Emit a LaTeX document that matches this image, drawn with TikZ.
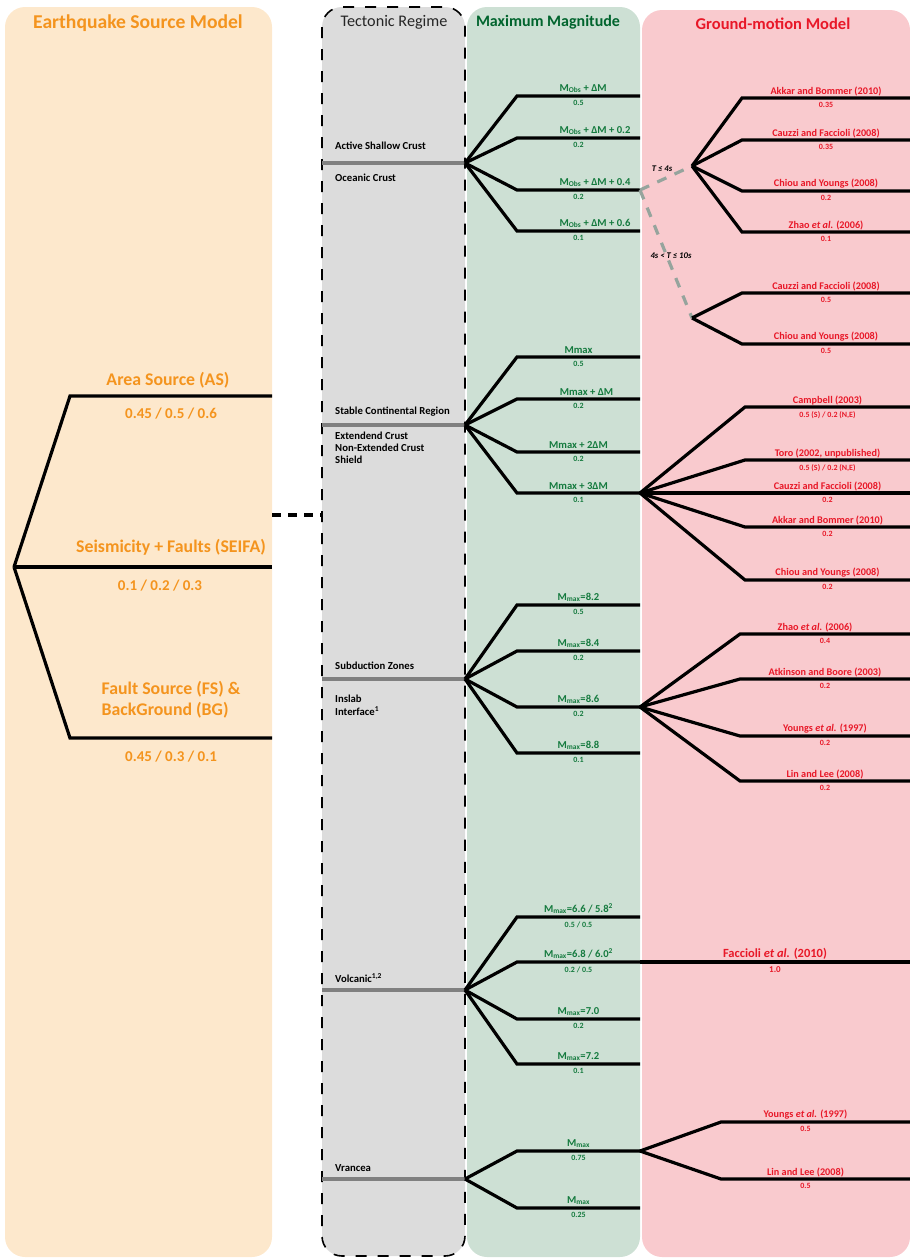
\documentclass[tikz,border=0pt]{standalone}
\usepackage{fontspec}
\setmainfont{Carlito}
\usetikzlibrary{positioning,calc}
\definecolor{srcfill}{RGB}{253,232,204}
\definecolor{srctext}{RGB}{244,148,30}
\definecolor{regfill}{RGB}{220,220,220}
\definecolor{regline}{RGB}{128,128,128}
\definecolor{magfill}{RGB}{205,224,212}
\definecolor{magtext}{RGB}{20,122,62}
\definecolor{maghead}{RGB}{0,100,45}
\definecolor{gmfill}{RGB}{249,202,206}
\definecolor{gmtext}{RGB}{232,24,40}
\definecolor{perline}{RGB}{150,164,157}
\begin{document}
\begin{tikzpicture}[x=1pt,y=-1pt,
panel/.style={rounded corners=20pt},
tree/.style={line width=3.2pt,black},
regime/.style={line width=3.2pt,draw=regline},
period/.style={line width=3.2pt,draw=perline,dash pattern=on 10pt off 9pt},
fork/.style={to path={-- ([xshift=-#1]\tikztotarget) -- (\tikztotarget) \tikztonodes}},
head/.style={font=\fontsize{17}{20}\selectfont\bfseries},
srclab/.style={text=srctext,font=\fontsize{17.8}{21}\selectfont\bfseries,inner sep=0pt},
srcval/.style={text=srctext,font=\fontsize{15}{18}\selectfont\bfseries,inner sep=0pt},
reglab/.style={font=\fontsize{10.7}{12}\selectfont\bfseries,anchor=west,align=left,inner sep=0pt},
maglab/.style={text=magtext,font=\fontsize{10.6}{12}\selectfont\bfseries,inner sep=1.5pt},
magval/.style={text=magtext,font=\fontsize{8}{9}\selectfont\bfseries,inner sep=3pt},
gmlab/.style={text=gmtext,font=\fontsize{10.2}{12}\selectfont\bfseries,inner sep=0.8pt},
gmval/.style={text=gmtext,font=\fontsize{8}{9}\selectfont\bfseries,inner sep=3pt},
perlab/.style={font=\fontsize{8.7}{10}\selectfont\bfseries\itshape,inner sep=0pt}]
\useasboundingbox (0,0) rectangle (910,1258);

% column panels
\fill[srcfill,panel] (5,7) rectangle (272,1257);
\fill[regfill,panel] (322,7) rectangle (465,1256);
\draw[panel,line width=1.6pt,dash pattern=on 11pt off 11pt] (322,7) rectangle (465,1256);
\fill[magfill,panel] (467,7) rectangle (640,1257);
\fill[gmfill,panel] (642,10) rectangle (910,1257);

\node[head,text=srctext,font=\fontsize{19.6}{22}\selectfont\bfseries] (srchead) at (138,23) {Earthquake Source Model};
\node[head,text=black!85,font=\fontsize{16.2}{20}\selectfont] (reghead) at (394,22) {Tectonic Regime};
\node[head,text=maghead,font=\fontsize{16}{20}\selectfont\bfseries] (maghd) at (548,22) {Maximum Magnitude};
\node[head,text=gmtext,font=\fontsize{16.5}{20}\selectfont\bfseries] (gmhead) at (773,24) {Ground-motion Model};

% earthquake source model
\coordinate (src) at (14,567);
\coordinate (as) at (272,396);
\coordinate (seifa) at (272,567);
\coordinate (fsbg) at (272,738);
\draw[tree] (src) to[fork=202] node[srclab,above=6pt,midway,xshift=-3pt] (aslab) {Area Source (AS)}
  node[srcval,below=10pt,midway] (asval) {0.45 / 0.5 / 0.6} (as);
\draw[tree] (src) to[fork=202] node[srclab,above=10pt,midway] (seifalab) {Seismicity + Faults (SEIFA)}
  node[srcval,below=11pt,midway,xshift=-11pt] (seifaval) {0.1 / 0.2 / 0.3} (seifa);
\draw[tree] (src) to[fork=202] node[srclab,above=18pt,midway,align=left] (fsbglab) {Fault Source (FS) \&\\BackGround (BG)}
  node[srcval,below=11pt,midway] (fsbgval) {0.45 / 0.3 / 0.1} (fsbg);
\coordinate (srcgap) at (272,515);
\coordinate (reggap) at (322,515);
\draw[tree,dash pattern=on 9pt off 7pt] (srcgap) -- (reggap);

% tectonic regimes
\coordinate (ascw) at (322,163);
\coordinate (asc) at (465,163);
\draw[regime] (ascw) -- (asc);
\node[reglab] (asclab) at (335,146) {Active Shallow Crust};
\node[reglab] (oclab) at (335,178) {Oceanic Crust};
\coordinate (scrw) at (322,425);
\coordinate (scr) at (465,425);
\draw[regime] (scrw) -- (scr);
\node[reglab] (scrlab) at (335,412) {Stable Continental Region};
\node[reglab] (eclab) at (335,448) {Extendend Crust\\Non-Extended Crust\\Shield};
\coordinate (szw) at (322,679);
\coordinate (sz) at (465,679);
\draw[regime] (szw) -- (sz);
\node[reglab] (szlab) at (335,666) {Subduction Zones};
\node[reglab,font=\fontsize{10.7}{13}\selectfont\bfseries] (islab) at (335,705) {Inslab\\Interface\textsuperscript{1}};
\coordinate (volw) at (322,990);
\coordinate (vol) at (465,990);
\draw[regime] (volw) -- (vol);
\node[reglab] (vollab) at (335,978) {Volcanic\textsuperscript{1,2}};
\coordinate (vrw) at (322,1179);
\coordinate (vr) at (465,1179);
\draw[regime] (vrw) -- (vr);
\node[reglab] (vrlab) at (335,1168) {Vrancea};

% maximum magnitude
\coordinate (m11) at (640,96);
\coordinate (m12) at (640,138);
\coordinate (m13) at (640,190);
\coordinate (m14) at (640,231);
\draw[tree] (asc) to[fork=123] node[maglab,above right,midway,xshift=-22pt] (m11l) {M\textsubscript{Obs} + ΔM} node[magval,below,midway] (m11v) {0.5} (m11);
\draw[tree] (asc) to[fork=123] node[maglab,above right,midway,xshift=-22pt] (m12l) {M\textsubscript{Obs} + ΔM + 0.2} node[magval,below,midway] (m12v) {0.2} (m12);
\draw[tree] (asc) to[fork=123] node[maglab,above right,midway,xshift=-22pt] (m13l) {M\textsubscript{Obs} + ΔM + 0.4} node[magval,below,midway] (m13v) {0.2} (m13);
\draw[tree] (asc) to[fork=123] node[maglab,above right,midway,xshift=-22pt] (m14l) {M\textsubscript{Obs} + ΔM + 0.6} node[magval,below,midway] (m14v) {0.1} (m14);
\coordinate (m21) at (640,357);
\coordinate (m22) at (640,399);
\coordinate (m23) at (640,452);
\coordinate (m24) at (640,493);
\draw[tree] (scr) to[fork=123] node[maglab,above,midway] (m21l) {Mmax} node[magval,below,midway] (m21v) {0.5} (m21);
\draw[tree] (scr) to[fork=123] node[maglab,above,midway,xshift=8pt] (m22l) {Mmax + ΔM} node[magval,below,midway] (m22v) {0.2} (m22);
\draw[tree] (scr) to[fork=123] node[maglab,above,midway] (m23l) {Mmax + 2ΔM} node[magval,below,midway] (m23v) {0.2} (m23);
\draw[tree] (scr) to[fork=123] node[maglab,above,midway] (m24l) {Mmax + 3ΔM} node[magval,below,midway] (m24v) {0.1} (m24);
\coordinate (m31) at (640,605);
\coordinate (m32) at (640,651);
\coordinate (m33) at (640,707);
\coordinate (m34) at (640,753);
\draw[tree] (sz) to[fork=123] node[maglab,above,midway] (m31l) {M\textsubscript{max}=8.2} node[magval,below,midway] (m31v) {0.5} (m31);
\draw[tree] (sz) to[fork=123] node[maglab,above,midway] (m32l) {M\textsubscript{max}=8.4} node[magval,below,midway] (m32v) {0.2} (m32);
\draw[tree] (sz) to[fork=123] node[maglab,above,midway] (m33l) {M\textsubscript{max}=8.6} node[magval,below,midway] (m33v) {0.2} (m33);
\draw[tree] (sz) to[fork=123] node[maglab,above,midway] (m34l) {M\textsubscript{max}=8.8} node[magval,below,midway] (m34v) {0.1} (m34);
\coordinate (m41) at (640,917);
\coordinate (m42) at (640,962);
\coordinate (m43) at (640,1019);
\coordinate (m44) at (640,1064);
\draw[tree] (vol) to[fork=123] node[maglab,above,midway] (m41l) {M\textsubscript{max}=6.6 / 5.8\textsuperscript{2}} node[magval,below,midway] (m41v) {0.5 / 0.5} (m41);
\draw[tree] (vol) to[fork=123] node[maglab,above,midway] (m42l) {M\textsubscript{max}=6.8 / 6.0\textsuperscript{2}} node[magval,below,midway] (m42v) {0.2 / 0.5} (m42);
\draw[tree] (vol) to[fork=123] node[maglab,above,midway] (m43l) {M\textsubscript{max}=7.0} node[magval,below,midway] (m43v) {0.2} (m43);
\draw[tree] (vol) to[fork=123] node[maglab,above,midway] (m44l) {M\textsubscript{max}=7.2} node[magval,below,midway] (m44v) {0.1} (m44);
\coordinate (m51) at (640,1151);
\coordinate (m52) at (640,1208);
\draw[tree] (vr) to[fork=123] node[maglab,above,midway] (m51l) {M\textsubscript{max}} node[magval,below,midway] (m51v) {0.75} (m51);
\draw[tree] (vr) to[fork=123] node[maglab,above,midway] (m52l) {M\textsubscript{max}} node[magval,below,midway] (m52v) {0.25} (m52);

% ground-motion models
\coordinate (tshort) at (692,166);
\coordinate (tlong) at (692,318);
\draw[period] (m13) -- (tshort);
\draw[period] (m13) -- (tlong);
\node[perlab] (tshortlab) at (662,169) {T ≤ 4s};
\node[perlab] (tlonglab) at (671,256) {4s < T ≤ 10s};
\coordinate (g11) at (910,98);
\coordinate (g12) at (910,140);
\coordinate (g13) at (910,191);
\coordinate (g14) at (910,232);
\draw[tree] (tshort) to[fork=168] node[gmlab,above,midway] (g11l) {Akkar and Bommer (2010)} node[gmval,below,midway] (g11v) {0.35} (g11);
\draw[tree] (tshort) to[fork=168] node[gmlab,above,midway] (g12l) {Cauzzi and Faccioli (2008)} node[gmval,below,midway] (g12v) {0.35} (g12);
\draw[tree] (tshort) to[fork=168] node[gmlab,above,midway] (g13l) {Chiou and Youngs (2008)} node[gmval,below,midway] (g13v) {0.2} (g13);
\draw[tree] (tshort) to[fork=168] node[gmlab,above,midway] (g14l) {Zhao \textit{et al.} (2006)} node[gmval,below,midway] (g14v) {0.1} (g14);
\coordinate (g15) at (910,293);
\coordinate (g16) at (910,344);
\draw[tree] (tlong) to[fork=168] node[gmlab,above,midway] (g15l) {Cauzzi and Faccioli (2008)} node[gmval,below,midway] (g15v) {0.5} (g15);
\draw[tree] (tlong) to[fork=168] node[gmlab,above,midway] (g16l) {Chiou and Youngs (2008)} node[gmval,below,midway] (g16v) {0.5} (g16);
\coordinate (g21) at (910,407);
\coordinate (g22) at (910,460);
\coordinate (g23) at (910,493);
\coordinate (g24) at (910,527);
\coordinate (g25) at (910,580);
\draw[tree] (m24) to[fork=165] node[gmlab,above,midway] (g21l) {Campbell (2003)} node[gmval,below,midway] (g21v) {0.5 (S) / 0.2 (N,E)} (g21);
\draw[tree] (m24) to[fork=165] node[gmlab,above,midway] (g22l) {Toro (2002, unpublished)} node[gmval,below,midway] (g22v) {0.5 (S) / 0.2 (N,E)} (g22);
\draw[tree] (m24) to[fork=165] node[gmlab,above,midway] (g23l) {Cauzzi and Faccioli (2008)} node[gmval,below,midway] (g23v) {0.2} (g23);
\draw[tree] (m24) to[fork=165] node[gmlab,above,midway] (g24l) {Akkar and Bommer (2010)} node[gmval,below,midway] (g24v) {0.2} (g24);
\draw[tree] (m24) to[fork=165] node[gmlab,above,midway] (g25l) {Chiou and Youngs (2008)} node[gmval,below,midway] (g25v) {0.2} (g25);
\coordinate (g31) at (910,634);
\coordinate (g32) at (910,679);
\coordinate (g33) at (910,736);
\coordinate (g34) at (910,781);
\draw[tree] (m33) to[fork=170] node[gmlab,above,midway,xshift=-10pt] (g31l) {Zhao \textit{et al.} (2006)} node[gmval,below,midway] (g31v) {0.4} (g31);
\draw[tree] (m33) to[fork=170] node[gmlab,above,midway] (g32l) {Atkinson and Boore (2003)} node[gmval,below,midway] (g32v) {0.2} (g32);
\draw[tree] (m33) to[fork=170] node[gmlab,above,midway] (g33l) {Youngs \textit{et al.} (1997)} node[gmval,below,midway] (g33v) {0.2} (g33);
\draw[tree] (m33) to[fork=170] node[gmlab,above,midway] (g34l) {Lin and Lee (2008)} node[gmval,below,midway] (g34v) {0.2} (g34);
\coordinate (g41) at (910,962);
\draw[tree] (m42) -- node[gmlab,above,midway,font=\fontsize{12.5}{14}\selectfont\bfseries] (g41l) {Faccioli \textit{et al.} (2010)}
  node[gmval,below,midway,font=\fontsize{9}{10}\selectfont\bfseries,inner sep=2.5pt] (g41v) {1.0} (g41);
\coordinate (g51) at (910,1122);
\coordinate (g52) at (910,1179);
\draw[tree] (m51) to[fork=189] node[gmlab,above,midway,xshift=-10pt] (g51l) {Youngs \textit{et al.} (1997)} node[gmval,below,midway,xshift=-10pt] (g51v) {0.5} (g51);
\draw[tree] (m51) to[fork=189] node[gmlab,above,midway,xshift=-10pt] (g52l) {Lin and Lee (2008)} node[gmval,below,midway,xshift=-10pt] (g52v) {0.5} (g52);
\end{tikzpicture}
\end{document}
